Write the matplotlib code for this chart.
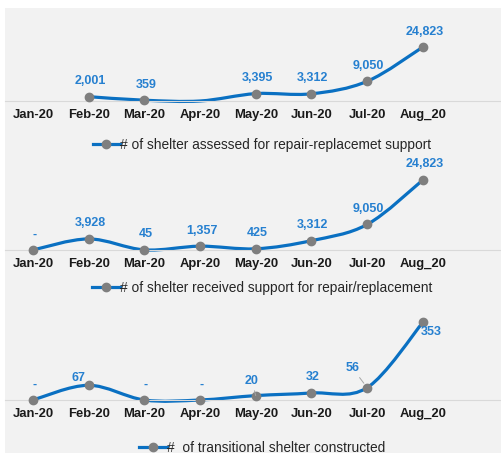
import matplotlib.pyplot as plt
from matplotlib.path import Path
from matplotlib.patches import PathPatch, Rectangle
from matplotlib.lines import Line2D

months = ["Jan-20", "Feb-20", "Mar-20", "Apr-20", "May-20", "Jun-20", "Jul-20", "Aug_20"]

# Jan is blank in the first series; Apr is plotted as zero but has no marker/label
assessed = [None, 2001, 359, 0, 3395, 3312, 9050, 24823]
assessed_hidden = [3]
received = [0, 3928, 45, 1357, 425, 3312, 9050, 24823]
transitional = [0, 67, 0, 0, 20, 32, 56, 353]

names = [
    "# of shelter assessed for repair-replacemet support",
    "# of shelter received support for repair/replacement",
    "#  of transitional shelter constructed",
]

BLUE = "#0a70c2"
LABEL = "#2680d0"
GRAY = "#7f7f7f"
W, H = 502, 453

plt.rcParams["font.family"] = ["Liberation Sans", "DejaVu Sans"]


def smooth_path(xs, ys):
    # excel-like smoothed line: cubic bezier through the points
    pts = list(zip(xs, ys))
    verts = [pts[0]]
    codes = [Path.MOVETO]
    for i in range(len(pts) - 1):
        p0 = pts[i - 1] if i > 0 else pts[i]
        p1 = pts[i]
        p2 = pts[i + 1]
        p3 = pts[i + 2] if i + 2 < len(pts) else pts[i + 1]
        c1 = (p1[0] + (p2[0] - p0[0]) / 6, p1[1] + (p2[1] - p0[1]) / 6)
        c2 = (p2[0] - (p3[0] - p1[0]) / 6, p2[1] - (p3[1] - p1[1]) / 6)
        verts += [c1, c2, p2]
        codes += [Path.CURVE4] * 3
    return Path(verts, codes)


fig = plt.figure(figsize=(W / 100, H / 100), dpi=100)
fig.patch.set_facecolor("white")
fig.patches.append(Rectangle((5 / W, 0), 1, 1 - 8 / H, transform=fig.transFigure,
                             facecolor="#f2f2f2", edgecolor="none", zorder=-5))

# (values, hidden points, baseline px, top px, ymax, legend y px)
panels = [
    (assessed, assessed_hidden, 101, 12, 40920, 145),
    (received, [], 250, 160, 31900, 288),
    (transitional, [], 400, 310, 409, 448),
]

# manual label nudges (pixels) for the crowded bottom panel
nudges = {
    (2, 1): (-10, 7),
    (2, 4): (-4, 15),
    (2, 6): (-15, 20),
    (2, 7): (8, -10),
}
leaders = {(2, 4), (2, 6)}

for k, (vals, hidden, base, top, ymax, leg_y) in enumerate(panels):
    ax = fig.add_axes([5 / W, 1 - base / H, 497 / W, (base - top) / H])
    ax.set_facecolor("none")
    ax.set_xlim(-0.5, 8.42)
    ax.set_ylim(0, ymax)

    xs = [i for i, v in enumerate(vals) if v is not None]
    ys = [v for v in vals if v is not None]

    ax.add_patch(PathPatch(smooth_path(xs, ys), facecolor="none", edgecolor=BLUE,
                           lw=2.3, capstyle="round", clip_on=False, zorder=2))

    mx = [x for x in xs if x not in hidden]
    my = [vals[x] for x in mx]
    ax.plot(mx, my, linestyle="none", marker="o", ms=6, color=GRAY, zorder=3, clip_on=False)

    for x, y in zip(mx, my):
        txt = f"{y:,}" if y else "-"
        off = nudges.get((k, x), (1.5, 15.5))
        arrow = None
        if (k, x) in leaders:
            arrow = dict(arrowstyle="-", color="#a6a6a6", lw=0.7, shrinkA=1, shrinkB=4)
        ax.annotate(txt, (x, y), xytext=off, textcoords="offset pixels",
                    ha="center", va="center", fontsize=9, fontweight="bold",
                    color=LABEL, arrowprops=arrow, zorder=4, annotation_clip=False)

    for s in ["top", "left", "right"]:
        ax.spines[s].set_visible(False)
    ax.spines["bottom"].set_color("#d9d9d9")
    ax.spines["bottom"].set_linewidth(0.8)
    ax.set_yticks([])
    ax.set_xticks(range(len(months)))
    ax.set_xticklabels(months, fontsize=9.4, fontweight="bold", color="#1a1a1a")
    ax.tick_params(axis="x", length=0, pad=6)

    handle = Line2D([], [], color=BLUE, lw=2.3, marker="o", ms=6,
                    markerfacecolor=GRAY, markeredgecolor=GRAY)
    fig.legend([handle], [names[k]], loc="center",
               bbox_to_anchor=(262 / W, 1 - leg_y / H), frameon=False,
               handlelength=2.0, handletextpad=0.0, numpoints=1,
               prop={"size": 9.9}, labelcolor="#262626")

fig.savefig("out.png", dpi=100)
